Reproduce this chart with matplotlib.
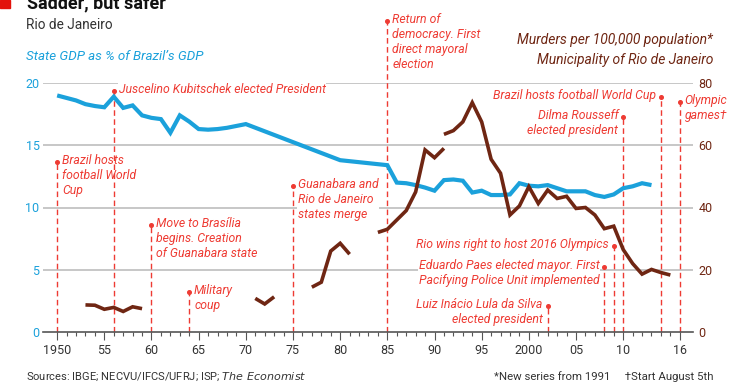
import numpy as np
import matplotlib.pyplot as plt
from matplotlib.patches import Rectangle

plt.rcParams['font.family'] = ['Roboto', 'DejaVu Sans']

# state GDP as % of Brazil's GDP
gdp_years = [1950, 1951, 1952, 1953, 1954, 1955, 1956, 1957, 1958, 1959,
             1960, 1961, 1962, 1963, 1964, 1965, 1966, 1967, 1968, 1969,
             1970, 1980, 1985, 1986, 1987, 1988, 1989, 1990, 1991, 1992,
             1993, 1994, 1995, 1996, 1997, 1998, 1999, 2000, 2001, 2002,
             2003, 2004, 2005, 2006, 2007, 2008, 2009, 2010, 2011, 2012, 2013]
gdp_share = [19.0, 18.8, 18.6, 18.3, 18.15, 18.05, 18.9, 18.0, 18.2, 17.4,
             17.2, 17.1, 16.0, 17.4, 16.9, 16.3, 16.25, 16.3, 16.4, 16.55,
             16.7, 13.8, 13.4, 12.0, 11.95, 11.8, 11.6, 11.35, 12.2, 12.25,
             12.15, 11.2, 11.35, 11.0, 11.0, 11.05, 11.95, 11.75, 11.7, 11.8,
             11.55, 11.3, 11.3, 11.3, 11.0, 10.85, 11.05, 11.55, 11.7, 11.95, 11.8]

# murders per 100,000 population, separate pieces of the series
murder_pieces = [
    ([1953, 1954, 1955, 1956, 1957, 1958, 1959],
     [8.7, 8.6, 7.3, 7.9, 6.6, 8.1, 7.5]),
    ([1971, 1972, 1973],
     [10.8, 9.0, 11.3]),
    ([1977, 1978, 1979, 1980, 1981],
     [14.4, 16.0, 26.0, 28.5, 25.0]),
    ([1984, 1985, 1986, 1987, 1988, 1989, 1990, 1991],
     [32.0, 33.0, 36.0, 39.0, 45.0, 58.5, 56.0, 59.0]),
    ([1991, 1992, 1993, 1994, 1995, 1996, 1997, 1998, 1999, 2000,
      2001, 2002, 2003, 2004, 2005, 2006, 2007, 2008, 2009, 2010,
      2011, 2012, 2013, 2014, 2015],
     [63.5, 64.7, 67.5, 73.7, 67.5, 55.5, 51.0, 37.6, 40.5, 46.7,
      41.3, 45.6, 42.9, 43.6, 39.7, 40.0, 37.6, 33.2, 34.0, 26.5,
      22.0, 18.6, 20.1, 19.1, 18.3]),
]

# events: year, height of the marker (left scale), label, side
event_years = [1950, 1956, 1960, 1964, 1975, 1985, 2002, 2008, 2009, 2010, 2014, 2016]
event_tops = [13.65, 19.36, 8.6, 3.2, 11.7, 25.0, 2.1, 5.2, 6.9, 17.3, 18.9, 18.5]
event_labels = [
    'Brazil hosts\nfootball World\nCup',
    'Juscelino Kubitschek elected President',
    'Move to Brasília\nbegins. Creation\nof Guanabara state',
    'Military\ncoup',
    'Guanabara and\nRio de Janeiro\nstates merge',
    'Return of\ndemocracy. First\ndirect mayoral\nelection',
    'Luiz Inácio Lula da Silva\nelected president',
    'Eduardo Paes elected mayor. First\nPacifying Police Unit implemented',
    'Rio wins right to host 2016 Olympics',
    'Dilma Rousseff\nelected president',
    'Brazil hosts football World Cup',
    'Olympic\ngames†',
]
event_sides = ['r', 'r', 'r', 'r', 'r', 'r', 'l', 'l', 'l', 'l', 'l', 'r']

major_years = [1950, 1955, 1960, 1965, 1970, 1975, 1980, 1985, 1990, 1995,
               2000, 2005, 2010, 2016]
major_labels = ['1950', '55', '60', '65', '70', '75', '80', '85', '90', '95',
                '2000', '05', '10', '16']

blue = '#1ba1db'
brown = '#6f2613'
red = '#ee3b33'
grey = '#333333'

fig = plt.figure(figsize=(7.4, 3.89), dpi=100)
ax = fig.add_axes([43 / 740, 57 / 389, 650 / 740, 249 / 389])
ax2 = ax.twinx()

ax.set_xlim(1948.5, 2017.4)
ax.set_ylim(0, 20)
ax2.set_ylim(0, 80)

for a in (ax, ax2):
    for s in a.spines.values():
        s.set_visible(False)

# gridlines (hidden behind the label boxes)
for v in [5, 10, 15, 20]:
    ax.axhline(v, color='#b8b8b8', lw=1.1, zorder=0.5)
ax.axhline(0, color='#555555', lw=1.2, zorder=4, clip_on=False)

# events
for yr, top, lab, side in zip(event_years, event_tops, event_labels, event_sides):
    ax.plot([yr, yr], [0, top], color=red, lw=1.0, dashes=(4, 2.5),
            zorder=2.5, clip_on=False)
    ax.plot([yr], [top], 'o', color=red, ms=2.6, zorder=2.5, clip_on=False)
    if side == 'r':
        ax.annotate(lab, (yr, top), xytext=(3.5, 5.8), textcoords='offset points',
                    ha='left', va='top', color=red, fontsize=8.8, style='italic',
                    linespacing=1.2, zorder=2, annotation_clip=False,
                    bbox=dict(facecolor='white', edgecolor='none', pad=0.6))
    else:
        ax.annotate(lab, (yr, top), xytext=(-3.5, 5.8), textcoords='offset points',
                    ha='right', va='top', color=red, fontsize=8.8, style='italic',
                    linespacing=1.2, multialignment='right', zorder=2,
                    annotation_clip=False,
                    bbox=dict(facecolor='white', edgecolor='none', pad=0.6))

ax.plot(gdp_years, gdp_share, color=blue, lw=3.0, zorder=3,
        solid_capstyle='butt', solid_joinstyle='miter')
for yrs, vals in murder_pieces:
    ax2.plot(yrs, vals, color=brown, lw=2.6, zorder=3,
             solid_capstyle='butt', solid_joinstyle='miter')

# ticks
ax.set_xticks(major_years)
ax.set_xticklabels(major_labels)
ax.set_xticks(range(1950, 2017), minor=True)
ax.tick_params(axis='x', which='major', length=5.8, width=0.8, color='#555555',
               labelsize=9, labelcolor=grey, pad=2.5)
ax.tick_params(axis='x', which='minor', length=2.9, width=0.8, color='#555555')
ax.set_yticks([0, 5, 10, 15, 20])
ax.tick_params(axis='y', length=0, labelsize=9, labelcolor=blue, pad=2.5)
ax2.set_yticks([0, 20, 40, 60, 80])
ax2.tick_params(axis='y', length=0, labelsize=9, labelcolor=brown, pad=4)
ax2.tick_params(axis='x', which='both', length=0)

# header
fig.patches.append(Rectangle((0, 1 - 8 / 389), 10 / 740, 8 / 389,
                             transform=fig.transFigure, color='#e3120b'))
fig.text(27 / 740, 1 - 8 / 389, 'Sadder, but safer', fontsize=13, weight='bold',
         color='#111111', va='baseline', ha='left')
fig.text(26 / 740, 1 - 25 / 389, 'Rio de Janeiro', fontsize=9.8, color=grey,
         va='center', ha='left')
fig.text(26 / 740, 1 - 57 / 389, 'State GDP as % of Brazil’s GDP', fontsize=9.6,
         color=blue, style='italic', va='center', ha='left')
fig.text(713 / 740, 1 - 40 / 389, 'Murders per 100,000 population*', fontsize=10,
         color=brown, style='italic', va='center', ha='right')
fig.text(713 / 740, 1 - 60 / 389, 'Municipality of Rio de Janeiro', fontsize=10,
         color=brown, style='italic', va='center', ha='right')

# footer
fig.text(26 / 740, 1 - 377 / 389, 'Sources: IBGE; NECVU/IFCS/UFRJ; ISP; $\\it{The\\ Economist}$',
         fontsize=8, color=grey, va='center', ha='left')
fig.text(713 / 740, 1 - 377 / 389, '*New series from 1991     †Start August 5th',
         fontsize=8.2, color=grey, va='center', ha='right')

fig.savefig('out.png', dpi=100)
